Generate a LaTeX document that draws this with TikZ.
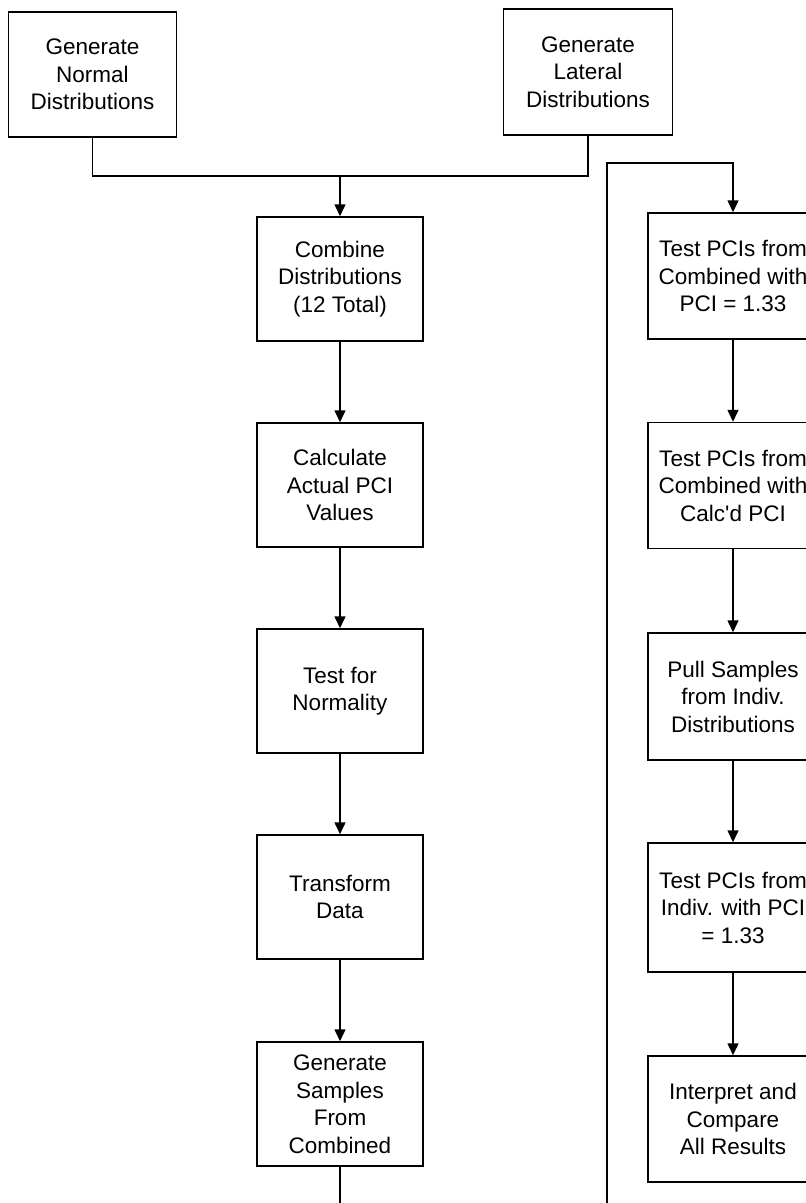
\documentclass[tikz,border=0pt]{standalone}
\usepackage{fontspec}
\setmainfont{Liberation Sans}
\usetikzlibrary{arrows.meta}
\begin{document}
\begin{tikzpicture}[x=1pt,y=-1pt,
  stepbox/.style={draw=black, line width=1.5pt, minimum width=166pt, minimum height=124pt,
    inner sep=0pt, align=center, font=\fontsize{22.5}{27.5}\selectfont},
  link/.style={line width=1.5pt, draw=black},
  arr/.style={link, -{Triangle[width=11pt,length=12pt]}}]
\useasboundingbox (0,0) rectangle (806,1203);
\fill[white] (0,0) rectangle (806,1203);
% top boxes
\node[stepbox, minimum width=168pt, minimum height=125pt] (gn) at (92.5,74.5) {Generate\\Normal\\Distributions};
\node[stepbox, minimum width=169pt, minimum height=126pt] (gl) at (588,72) {Generate\\Lateral\\Distributions};
% left column
\node[stepbox] (cd) at (340,279) {Combine\\Distributions\\(12 Total)};
\node[stepbox] (ca) at (340,485) {Calculate\\Actual PCI\\Values};
\node[stepbox] (tn) at (340,691) {Test for\\Normality};
\node[stepbox] (td) at (340,897) {Transform\\Data};
\node[stepbox] (gs) at (340,1104) {Generate\\Samples\\From\\Combined};
% right column
\node[stepbox, minimum width=170pt, minimum height=126pt] (r1) at (733,276) {Test PCIs from\\Combined with\\PCI = 1.33};
\node[stepbox, minimum width=170pt, minimum height=126pt] (r2) at (733,485.5) {Test PCIs from\\Combined with\\Calc\textquotesingle d PCI};
\node[stepbox, minimum width=170pt, minimum height=127pt] (r3) at (733,696.5) {Pull Samples\\from Indiv.\\Distributions};
\node[stepbox, minimum width=170pt, minimum height=129pt] (r4) at (733,907.5) {Test PCIs from\\Indiv. with PCI\\= 1.33};
\node[stepbox, minimum width=170pt, minimum height=126pt] (r5) at (733,1119) {Interpret and\\Compare\\All Results};
% connectors
\coordinate (j) at (340,176);
\draw[link] (gn.south) -- (gn.south |- j) -- (gl.south |- j) -- (gl.south);
\draw[arr] (j) -- (cd.north);
\draw[arr] (cd) -- (ca);
\draw[arr] (ca) -- (tn);
\draw[arr] (tn) -- (td);
\draw[arr] (td) -- (gs);
\coordinate (bl) at (340,1203);
\draw[link] (gs.south) -- (bl);
\coordinate (br) at (607,1203);
\coordinate (tr) at (607,163);
\draw[arr] (br) -- (tr) -| (r1.north);
\draw[arr] (r1) -- (r2);
\draw[arr] (r2) -- (r3);
\draw[arr] (r3) -- (r4);
\draw[arr] (r4) -- (r5);
\end{tikzpicture}
\end{document}
